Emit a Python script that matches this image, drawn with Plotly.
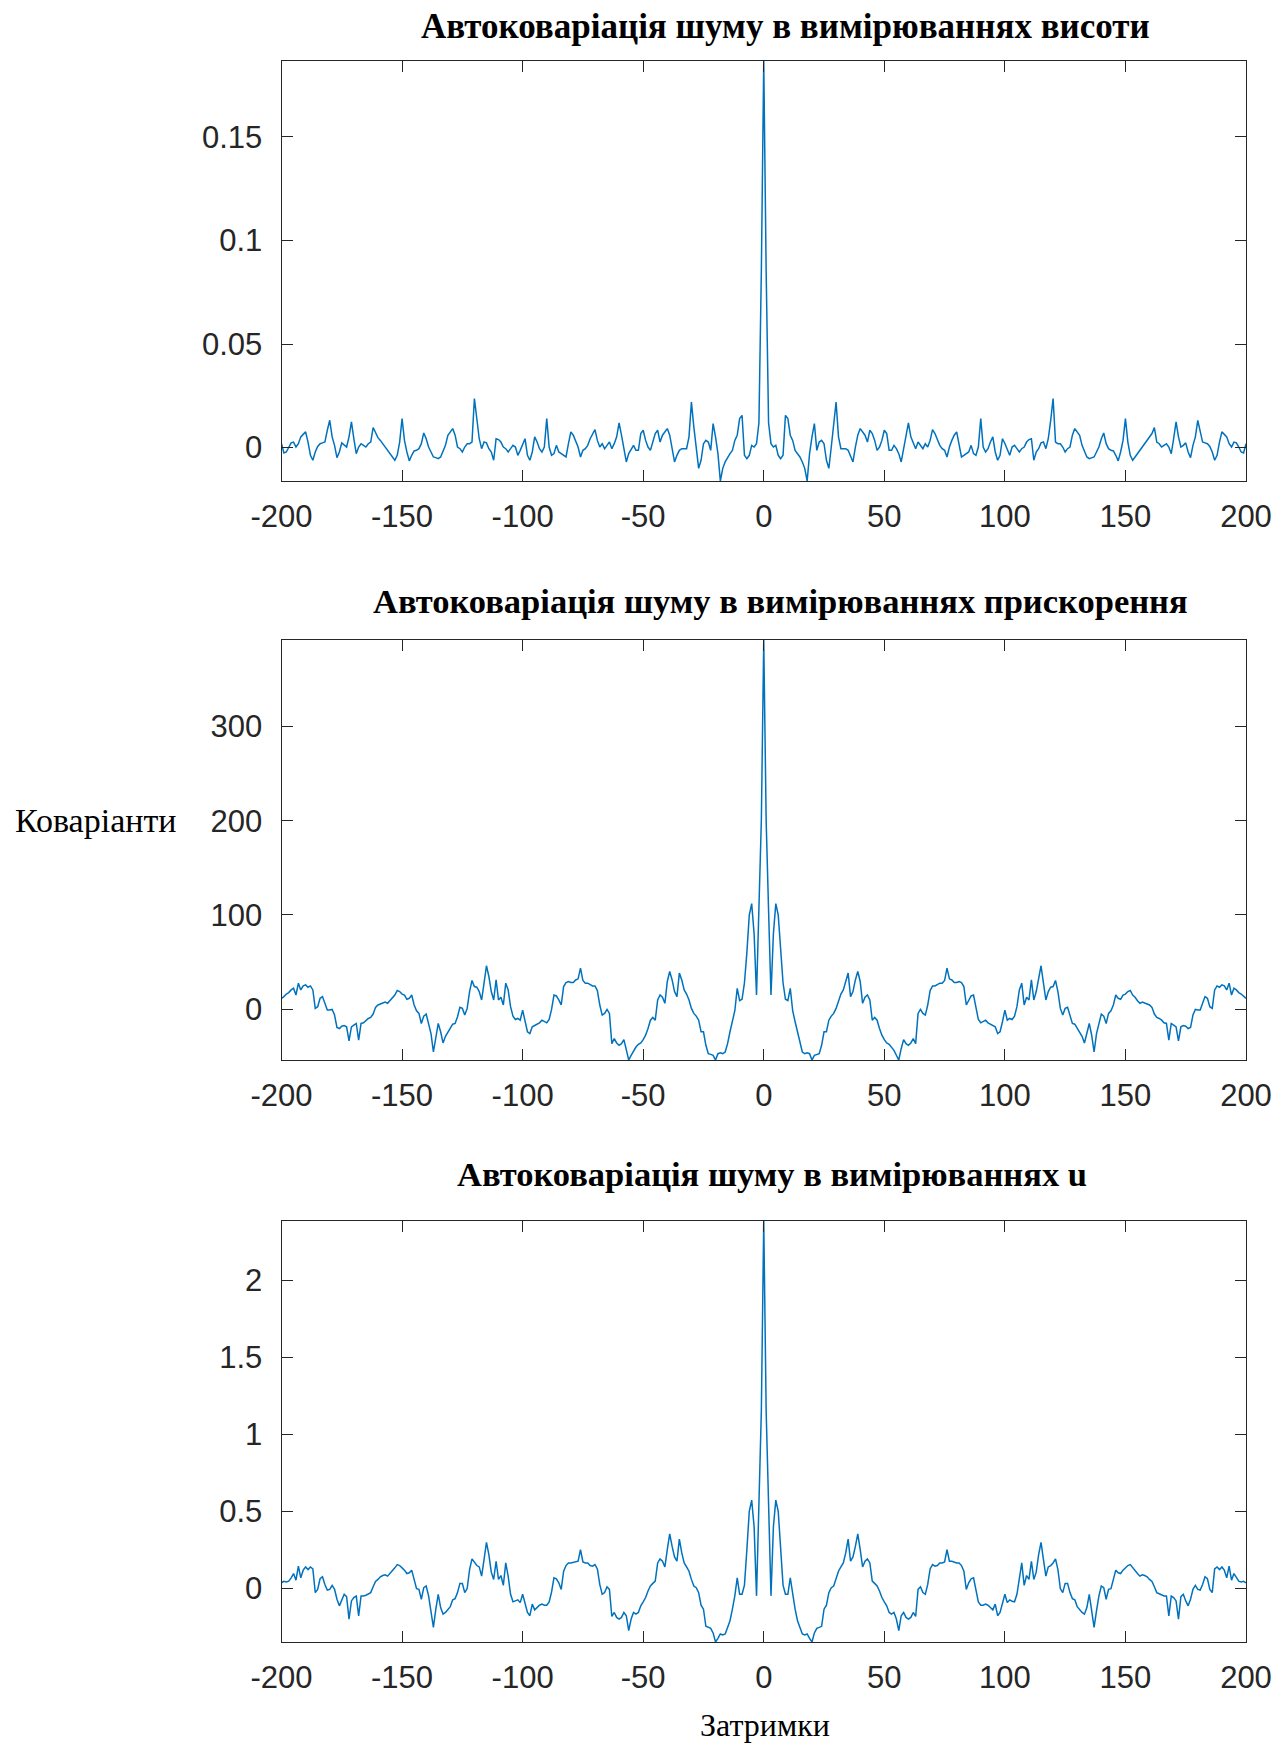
import plotly.graph_objects as go

# Autocovariance of measurement noise for lags 0..200 (the function is even in the lag,
# so the negative half is the mirror image of these values).
lags_pos = list(range(0, 201))

height_acov = [
    0.1866, 0.0850, 0.0120, 0.0019, 0.0003, 0.0011, -0.0037, -0.0053, -0.0037, 0.0156,
    0.0140, 0.0060, 0.0035, -0.0013, -0.0029, -0.0045, -0.0069, -0.0100, -0.0161, -0.0029,
    0.0052, 0.0116, -0.0013, 0.0027, 0.0035, 0.0019, -0.0061, -0.0100, 0.0003, 0.0100,
    0.0220, 0.0052, -0.0005, -0.0005, -0.0005, -0.0013, -0.0037, -0.0069, 0.0003, 0.0060,
    0.0092, 0.0076, 0.0060, 0.0027, 0.0084, 0.0068, 0.0035, -0.0013, 0.0003, 0.0035,
    0.0084, 0.0068, -0.0013, -0.0013, 0.0011, -0.0005, -0.0029, -0.0069, -0.0005, 0.0060,
    0.0119, 0.0052, 0.0019, -0.0005, 0.0027, 0.0011, -0.0005, 0.0019, 0.0003, 0.0035,
    0.0087, 0.0068, 0.0043, 0.0011, -0.0005, -0.0013, -0.0045, 0.0003, 0.0035, 0.0060,
    0.0076, 0.0019, -0.0045, -0.0037, -0.0029, -0.0021, 0.0011, -0.0029, -0.0037, 0.0003,
    0.0140, 0.0003, -0.0021, -0.0005, 0.0027, 0.0052, -0.0021, -0.0061, -0.0037, 0.0043,
    0.0020, -0.0013, -0.0037, 0.0003, 0.0011, -0.0005, -0.0021, -0.0005, 0.0003, 0.0027,
    0.0039, 0.0043, -0.0061, -0.0021, -0.0005, 0.0023, 0.0027, -0.0005, 0.0043, 0.0132,
    0.0237, 0.0027, 0.0019, 0.0019, 0.0003, -0.0021, -0.0005, 0.0003, 0.0060, 0.0092,
    0.0076, 0.0060, 0.0011, -0.0021, -0.0045, -0.0053, -0.0048, -0.0045, -0.0021, 0.0003,
    0.0043, 0.0071, 0.0019, -0.0005, -0.0013, -0.0016, -0.0037, -0.0064, -0.0021, 0.0035,
    0.0140, 0.0027, -0.0037, -0.0061, -0.0045, -0.0029, -0.0013, 0.0003, 0.0019, 0.0035,
    0.0048, 0.0068, 0.0097, 0.0027, 0.0019, 0.0003, 0.0011, 0.0019, 0.0003, -0.0029,
    0.0043, 0.0124, 0.0052, 0.0003, 0.0011, 0.0023, -0.0021, -0.0048, 0.0011, 0.0052,
    0.0132, 0.0084, 0.0027, 0.0023, 0.0019, 0.0006, -0.0021, -0.0061, -0.0037, 0.0027,
    0.0076, 0.0064, 0.0052, 0.0019, 0.0003, 0.0027, 0.0023, 0.0003, -0.0021, -0.0026,
    0.0019,
]

accel_acov = [
    392.0, 200.0, 105.0, 15.0, 80.0, 112.0, 100.0, 60.0, 28.0, 10.5,
    9.0, 22.0, -1.7, -13.4, -24.0, -36.6, -45.5, -47.3, -46.3, -47.3,
    -54.0, -49.0, -48.0, -47.3, -38.4, -24.0, -24.0, -11.7, -7.4, -4.5,
    0.8, 9.7, 16.0, 20.4, 31.0, 38.3, 13.3, 18.7, 31.0, 40.0,
    29.4, 6.2, 12.6, 15.0, 9.8, -11.7, -8.8, -11.7, -20.6, -27.7,
    -32.4, -35.9, -37.3, -40.2, -43.8, -49.0, -54.0, -42.0, -32.4, -36.6,
    -38.4, -35.9, -31.3, -36.6, -4.5, -0.3, -4.5, -6.3, 4.4, 19.7,
    24.7, 24.7, 25.8, 27.6, 27.6, 30.4, 43.6, 32.2, 31.0, 28.3,
    28.3, 29.4, 28.3, 24.0, 4.4, 9.8, 14.0, 15.0, -0.3, -11.0,
    -14.5, -13.4, -11.7, -14.5, -16.0, -17.4, -18.8, -25.9, -24.0, -13.4,
    -1.0, -11.7, -9.9, -11.0, -7.4, 2.6, 20.4, 27.6, 4.4, 12.6,
    9.7, 31.1, 9.7, 18.7, 34.7, 46.1, 27.6, 9.7, 18.7, 23.3,
    24.0, 30.4, 18.7, 0.8, -6.3, 0.8, 1.9, -8.1, -15.2, -16.0,
    -20.6, -24.0, -28.8, -35.9, -24.0, -15.2, -27.7, -45.5, -25.9, -15.2,
    -5.2, -7.4, -15.2, -4.5, -1.7, 4.4, 15.0, 11.5, 10.5, 15.0,
    16.0, 18.7, 19.8, 15.0, 12.6, 9.0, 6.2, 7.6, 6.2, 5.5,
    4.4, 1.9, -5.2, -8.8, -9.9, -11.7, -14.5, -15.2, -33.0, -15.2,
    -17.0, -18.8, -33.8, -18.8, -17.4, -18.1, -20.6, -19.5, -6.3, -0.3,
    -1.0, -1.0, 6.2, 13.3, 11.5, 2.6, 0.8, 20.4, 24.7, 23.3,
    25.8, 24.7, 20.4, 27.6, 15.0, 22.2, 20.4, 17.6, 16.1, 13.3,
    11.5,
]

u_acov = [
    2.390, 1.150, 0.550, -0.050, 0.400, 0.572, 0.500, 0.250, 0.020, -0.040,
    -0.040, 0.067, -0.050, -0.137, -0.212, -0.255, -0.298, -0.304, -0.298, -0.326,
    -0.350, -0.291, -0.261, -0.255, -0.248, -0.137, -0.111, -0.029, 0.003, 0.014,
    0.057, 0.110, 0.138, 0.164, 0.229, 0.319, 0.175, 0.203, 0.271, 0.353,
    0.250, 0.138, 0.175, 0.190, 0.164, 0.046, 0.031, 0.014, -0.018, -0.061,
    -0.089, -0.115, -0.158, -0.169, -0.158, -0.201, -0.276, -0.179, -0.158, -0.190,
    -0.201, -0.190, -0.158, -0.184, -0.008, 0.009, -0.029, -0.040, 0.024, 0.125,
    0.153, 0.143, 0.147, 0.164, 0.164, 0.170, 0.250, 0.175, 0.175, 0.168,
    0.164, 0.164, 0.147, 0.110, -0.008, 0.035, 0.061, 0.067, -0.025, -0.089,
    -0.111, -0.111, -0.104, -0.111, -0.126, -0.141, -0.104, -0.179, -0.158, -0.098,
    -0.040, -0.094, -0.076, -0.085, -0.089, -0.040, 0.078, 0.164, 0.018, 0.082,
    0.057, 0.175, 0.057, 0.104, 0.218, 0.297, 0.186, 0.078, 0.138, 0.147,
    0.164, 0.190, 0.121, -0.003, -0.029, 0.031, 0.031, -0.029, -0.068, -0.076,
    -0.120, -0.141, -0.158, -0.169, -0.126, -0.040, -0.137, -0.255, -0.147, -0.050,
    0.014, 0.003, -0.072, -0.008, -0.003, 0.057, 0.117, 0.100, 0.095, 0.117,
    0.132, 0.147, 0.153, 0.132, 0.110, 0.095, 0.078, 0.087, 0.082, 0.074,
    0.057, 0.044, 0.009, -0.029, -0.036, -0.046, -0.051, -0.051, -0.180, -0.051,
    -0.061, -0.083, -0.201, -0.055, -0.040, -0.083, -0.115, -0.072, -0.008, 0.018,
    -0.008, -0.012, 0.024, 0.074, 0.061, -0.008, -0.029, 0.125, 0.138, 0.121,
    0.138, 0.117, 0.067, 0.143, 0.052, 0.095, 0.067, 0.046, 0.040, 0.044,
    0.035,
]

titles = [
    "Автоковаріація шуму в вимірюваннях висоти",
    "Автоковаріація шуму в вимірюваннях прискорення",
    "Автоковаріація шуму в вимірюваннях u",
]
x_label = "Затримки"
y_label = "Коваріанти"

x_ticks = [-200, -150, -100, -50, 0, 50, 100, 150, 200]
y_ticks = [
    [0, 0.05, 0.1, 0.15],
    [0, 100, 200, 300],
    [0, 0.5, 1, 1.5, 2],
]
y_ticktext = [
    ["0", "0.05", "0.1", "0.15"],
    ["0", "100", "200", "300"],
    ["0", "0.5", "1", "1.5", "2"],
]
y_ranges = [
    [-0.0161, 0.1866],
    [-54.0, 392.0],
    [-0.350, 2.390],
]


def full_series(pos):
    """Even extension: value at -k equals value at k."""
    return pos[:0:-1] + pos


lags = [-k for k in lags_pos[:0:-1]] + lags_pos
series = [full_series(height_acov), full_series(accel_acov), full_series(u_acov)]

W, H = 1275, 1744
# Plot boxes in pixels: (left, right, top, bottom)
x_left, x_right = 281.5, 1246.0
boxes_y = [(61.0, 481.0), (640.0, 1060.0), (1220.5, 1642.0)]
title_pos = [(785, 27), (780, 601), (772, 1174)]
title_sizes = [35, 34.5, 34.5]

LINE_BLUE = "#0072BD"
AXIS_GRAY = "#262626"
SERIF = "Liberation Serif, Times New Roman, serif"
tick_font = dict(family="Liberation Sans, Arial, sans-serif", size=31, color=AXIS_GRAY)

fig = go.Figure()
layout = dict(
    width=W, height=H,
    margin=dict(l=0, r=0, t=0, b=0, autoexpand=False),
    paper_bgcolor="white", plot_bgcolor="white",
    showlegend=False,
)

for i, (ys, (top, bottom)) in enumerate(zip(series, boxes_y)):
    n = "" if i == 0 else str(i + 1)
    fig.add_trace(go.Scatter(
        x=lags, y=ys, mode="lines",
        line=dict(color=LINE_BLUE, width=1.5),
        xaxis="x" + n, yaxis="y" + n,
        hoverinfo="x+y",
    ))
    layout["xaxis" + n] = dict(
        domain=[x_left / W, x_right / W],
        anchor="y" + n,
        range=[-200, 200],
        tickmode="array", tickvals=x_ticks,
        ticktext=[str(v) for v in x_ticks],
        ticks="inside", ticklen=11, tickwidth=1, tickcolor=AXIS_GRAY,
        showline=True, linecolor=AXIS_GRAY, linewidth=1, mirror="allticks",
        showgrid=False, zeroline=False, automargin=False,
        tickfont=tick_font, ticklabelstandoff=8,
    )
    layout["yaxis" + n] = dict(
        domain=[1 - bottom / H, 1 - top / H],
        anchor="x" + n,
        range=y_ranges[i],
        tickmode="array", tickvals=y_ticks[i], ticktext=y_ticktext[i],
        ticks="inside", ticklen=11, tickwidth=1, tickcolor=AXIS_GRAY,
        showline=True, linecolor=AXIS_GRAY, linewidth=1, mirror="allticks",
        showgrid=False, zeroline=False, automargin=False,
        tickfont=tick_font, ticklabelstandoff=12,
    )

annotations = []
for text, (cx, cy), fs in zip(titles, title_pos, title_sizes):
    annotations.append(dict(
        text="<b>" + text + "</b>", x=cx / W, y=1 - cy / H,
        xref="paper", yref="paper", xanchor="center", yanchor="middle",
        showarrow=False,
        font=dict(family=SERIF, size=fs, color="black"),
    ))
annotations.append(dict(
    text=y_label, x=95 / W, y=1 - 820 / H, xref="paper", yref="paper",
    xanchor="center", yanchor="middle", showarrow=False,
    font=dict(family=SERIF, size=34, color="black"),
))
annotations.append(dict(
    text=x_label, x=765 / W, y=1 - 1725 / H, xref="paper", yref="paper",
    xanchor="center", yanchor="middle", showarrow=False,
    font=dict(family=SERIF, size=32, color="black"),
))
layout["annotations"] = annotations

fig.update_layout(**layout)
fig.write_html("out.html")
